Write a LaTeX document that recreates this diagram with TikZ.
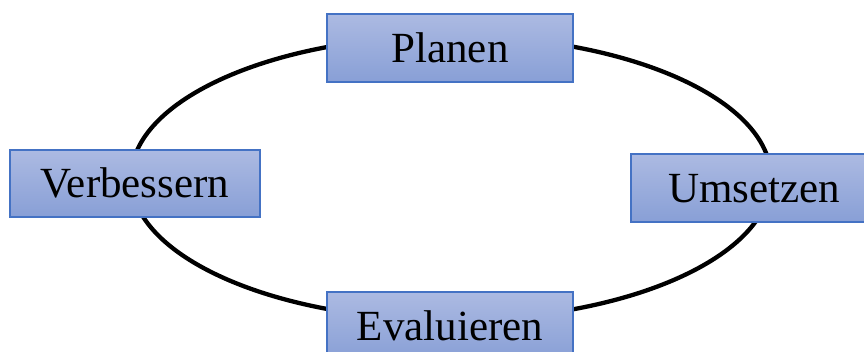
\documentclass[tikz,border=0pt]{standalone}
\usepackage{fontspec}
\setmainfont{Liberation Serif}
\definecolor{boxtop}{RGB}{172,186,226}
\definecolor{boxbot}{RGB}{136,159,214}
\definecolor{boxline}{RGB}{68,114,196}
\begin{document}
\begin{tikzpicture}[x=1pt,y=-1pt,
  stepbox/.style={draw=boxline, line width=1.2pt, top color=boxtop, bottom color=boxbot,
    minimum width=246pt, minimum height=68pt, inner sep=0pt,
    font=\fontsize{43}{48}\selectfont, text height=28.5pt, text depth=0pt},
  loop/.style={line width=4.3pt, black}]
\useasboundingbox (0,0) rectangle (864,351);
\clip (0,0) rectangle (864,351);
\draw[loop] (451,178) ellipse [x radius=320pt, y radius=142pt];
\node[stepbox] (plan) at (450,48) {Planen};
\node[stepbox, minimum width=250pt, minimum height=67pt] (verb) at (135,183.5) {Verbessern};
\node[stepbox] (ums) at (754,188) {Umsetzen};
\node[stepbox] (eval) at (450,326) {Evaluieren};
\end{tikzpicture}
\end{document}
